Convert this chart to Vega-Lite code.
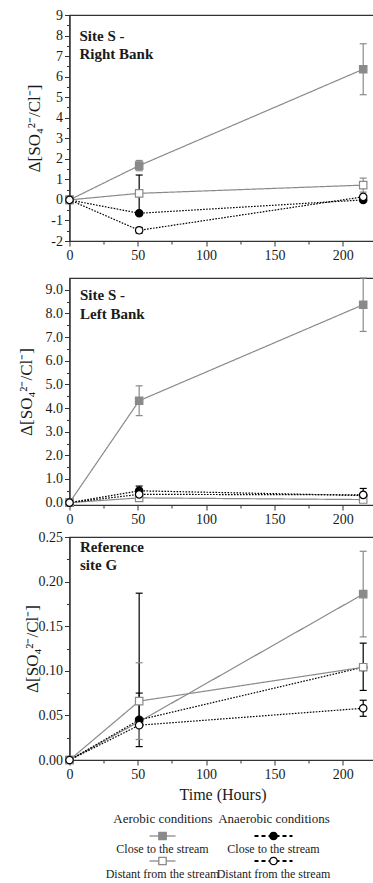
{
  "$schema": "https://vega.github.io/schema/vega-lite/v6.json",
  "padding": {"left": 15.5, "top": 7, "right": 0, "bottom": 0},
  "background": "white",
  "config": {
    "font": "Liberation Serif",
    "view": {"stroke": "#333333", "strokeWidth": 1.2},
    "axis": {
      "labelFont": "Liberation Serif", "labelFontSize": 14, "labelColor": "#1a1a1a",
      "titleFont": "Liberation Serif", "titleFontWeight": "normal", "titleColor": "#1a1a1a",
      "domainColor": "#333333", "domainWidth": 1.2, "tickColor": "#333333", "tickWidth": 1,
      "grid": false, "labelPadding": 2, "labelFlush": false, "labelOverlap": false
    }
  },
  "datasets": {
    "obs": [
      {"panel": "R", "series": "Aerobic, close", "t": 0, "v": 0, "lo": null, "hi": null},
      {"panel": "R", "series": "Aerobic, close", "t": 51, "v": 1.67, "lo": 1.42, "hi": 1.92},
      {"panel": "R", "series": "Aerobic, close", "t": 215, "v": 6.36, "lo": 5.12, "hi": 7.6},
      {"panel": "R", "series": "Anaerobic, close", "t": 0, "v": 0, "lo": null, "hi": null},
      {"panel": "R", "series": "Anaerobic, close", "t": 51, "v": -0.65, "lo": -0.65, "hi": 1.21},
      {"panel": "R", "series": "Anaerobic, close", "t": 215, "v": 0.0, "lo": null, "hi": null},
      {"panel": "R", "series": "Aerobic, distant", "t": 0, "v": 0, "lo": null, "hi": null},
      {"panel": "R", "series": "Aerobic, distant", "t": 51, "v": 0.32, "lo": null, "hi": null},
      {"panel": "R", "series": "Aerobic, distant", "t": 215, "v": 0.72, "lo": 0.38, "hi": 1.06},
      {"panel": "R", "series": "Anaerobic, distant", "t": 0, "v": 0, "lo": null, "hi": null},
      {"panel": "R", "series": "Anaerobic, distant", "t": 51, "v": -1.48, "lo": -1.62, "hi": -1.34},
      {"panel": "R", "series": "Anaerobic, distant", "t": 215, "v": 0.15, "lo": null, "hi": null},

      {"panel": "L", "series": "Aerobic, close", "t": 0, "v": 0, "lo": null, "hi": null},
      {"panel": "L", "series": "Aerobic, close", "t": 51, "v": 4.31, "lo": 3.68, "hi": 4.94},
      {"panel": "L", "series": "Aerobic, close", "t": 215, "v": 8.37, "lo": 7.24, "hi": 9.5},
      {"panel": "L", "series": "Anaerobic, close", "t": 0, "v": 0, "lo": null, "hi": null},
      {"panel": "L", "series": "Anaerobic, close", "t": 51, "v": 0.5, "lo": 0.5, "hi": 0.7},
      {"panel": "L", "series": "Anaerobic, close", "t": 215, "v": 0.3, "lo": 0.3, "hi": 0.6},
      {"panel": "L", "series": "Aerobic, distant", "t": 0, "v": 0, "lo": null, "hi": null},
      {"panel": "L", "series": "Aerobic, distant", "t": 51, "v": 0.2, "lo": null, "hi": null},
      {"panel": "L", "series": "Aerobic, distant", "t": 215, "v": 0.13, "lo": null, "hi": null},
      {"panel": "L", "series": "Anaerobic, distant", "t": 0, "v": 0, "lo": null, "hi": null},
      {"panel": "L", "series": "Anaerobic, distant", "t": 51, "v": 0.35, "lo": null, "hi": null},
      {"panel": "L", "series": "Anaerobic, distant", "t": 215, "v": 0.33, "lo": null, "hi": null},

      {"panel": "G", "series": "Aerobic, close", "t": 0, "v": 0, "lo": null, "hi": null},
      {"panel": "G", "series": "Aerobic, close", "t": 51, "v": 0.043, "lo": null, "hi": null},
      {"panel": "G", "series": "Aerobic, close", "t": 215, "v": 0.186, "lo": 0.138, "hi": 0.234},
      {"panel": "G", "series": "Anaerobic, close", "t": 0, "v": 0, "lo": null, "hi": null},
      {"panel": "G", "series": "Anaerobic, close", "t": 51, "v": 0.045, "lo": 0.015, "hi": 0.075},
      {"panel": "G", "series": "Anaerobic, close", "t": 215, "v": 0.104, "lo": 0.078, "hi": 0.131},
      {"panel": "G", "series": "Aerobic, distant", "t": 0, "v": 0, "lo": null, "hi": null},
      {"panel": "G", "series": "Aerobic, distant", "t": 51, "v": 0.066, "lo": 0.023, "hi": 0.109},
      {"panel": "G", "series": "Aerobic, distant", "t": 215, "v": 0.104, "lo": null, "hi": null},
      {"panel": "G", "series": "Anaerobic, distant", "t": 0, "v": 0, "lo": null, "hi": null},
      {"panel": "G", "series": "Anaerobic, distant", "t": 51, "v": 0.039, "lo": 0.039, "hi": 0.187},
      {"panel": "G", "series": "Anaerobic, distant", "t": 215, "v": 0.058, "lo": 0.049, "hi": 0.067}
    ],
    "legend": [
      {"condition": "Aerobic conditions", "location": "Close to the stream", "series": "Aerobic, close"},
      {"condition": "Aerobic conditions", "location": "Distant from the stream", "series": "Aerobic, distant"},
      {"condition": "Anaerobic conditions", "location": "Close to the stream", "series": "Anaerobic, close"},
      {"condition": "Anaerobic conditions", "location": "Distant from the stream", "series": "Anaerobic, distant"}
    ]
  },
  "vconcat": [
    {
      "vconcat": [
        {
          "width": 306, "height": 226,
          "title": {"text": ["Site S -", "Right Bank"], "anchor": "start", "frame": "group", "orient": "top", "baseline": "top", "offset": -54, "dx": 10, "fontSize": 15, "fontWeight": "bold", "lineHeight": 18.5, "color": "#1a1a1a", "font": "Liberation Serif"},
          "data": {"name": "obs"},
          "transform": [{"filter": "datum.panel === 'R'"}],
          "encoding": {
            "x": {"field": "t", "type": "quantitative", "title": null, "scale": {"domain": [0, 224], "nice": false, "zero": false},
              "axis": {"values": [0, 25, 50, 75, 100, 125, 150, 175, 200], "labelOverlap": false, "labelExpr": "datum.value % 50 === 0 ? datum.label : ''", "tickSize": {"condition": {"test": "datum.value % 50 === 0", "value": 5}, "value": 3}}},
            "y": {"field": "v", "type": "quantitative", "title": "Δ[SO₄²⁻/Cl⁻]", "scale": {"domain": [-2, 9], "nice": false, "zero": false},
              "axis": {"values": [-2, -1.5, -1, -0.5, 0, 0.5, 1, 1.5, 2, 2.5, 3, 3.5, 4, 4.5, 5, 5.5, 6, 6.5, 7, 7.5, 8, 8.5, 9], "labelOverlap": false, "labelExpr": "datum.value % 1 === 0 ? '' + datum.value : ''", "tickSize": {"condition": {"test": "datum.value % 1 === 0", "value": 5}, "value": 3}, "titleFontSize": 17, "titlePadding": 7}}
          },
          "layer": [
            {
              "mark": {"type": "line", "strokeWidth": 1.2},
              "encoding": {
                "stroke": {"field": "series", "type": "nominal", "legend": null, "scale": {"domain": ["Aerobic, close", "Aerobic, distant", "Anaerobic, close", "Anaerobic, distant"], "range": ["#8a8a8a", "#8a8a8a", "#000000", "#000000"]}},
                "strokeDash": {"field": "series", "type": "nominal", "legend": null, "scale": {"domain": ["Aerobic, close", "Aerobic, distant", "Anaerobic, close", "Anaerobic, distant"], "range": [[1, 0], [1, 0], [1.6, 1.4], [1.6, 1.4]]}}
              }
            },
            {
              "transform": [{"filter": "isValid(datum.hi)"}],
              "mark": {"type": "rule", "strokeWidth": 1.2},
              "encoding": {
                "y": {"field": "lo", "type": "quantitative", "title": "Δ[SO₄²⁻/Cl⁻]", "scale": {"domain": [-2, 9], "nice": false, "zero": false},
                  "axis": {"values": [-2, -1.5, -1, -0.5, 0, 0.5, 1, 1.5, 2, 2.5, 3, 3.5, 4, 4.5, 5, 5.5, 6, 6.5, 7, 7.5, 8, 8.5, 9], "labelOverlap": false, "labelExpr": "datum.value % 1 === 0 ? '' + datum.value : ''", "tickSize": {"condition": {"test": "datum.value % 1 === 0", "value": 5}, "value": 3}, "titleFontSize": 17, "titlePadding": 7}},
                "y2": {"field": "hi"},
                "color": {"field": "series", "type": "nominal", "legend": null, "scale": {"domain": ["Aerobic, close", "Aerobic, distant", "Anaerobic, close", "Anaerobic, distant"], "range": ["#8a8a8a", "#8a8a8a", "#000000", "#000000"]}}
              }
            },
            {
              "transform": [{"filter": "isValid(datum.hi)"}],
              "mark": {"type": "tick", "orient": "horizontal", "size": 7, "thickness": 1.2, "opacity": 1},
              "encoding": {
                "y": {"field": "hi", "type": "quantitative", "title": "Δ[SO₄²⁻/Cl⁻]", "scale": {"domain": [-2, 9], "nice": false, "zero": false},
                  "axis": {"values": [-2, -1.5, -1, -0.5, 0, 0.5, 1, 1.5, 2, 2.5, 3, 3.5, 4, 4.5, 5, 5.5, 6, 6.5, 7, 7.5, 8, 8.5, 9], "labelOverlap": false, "labelExpr": "datum.value % 1 === 0 ? '' + datum.value : ''", "tickSize": {"condition": {"test": "datum.value % 1 === 0", "value": 5}, "value": 3}, "titleFontSize": 17, "titlePadding": 7}},
                "color": {"field": "series", "type": "nominal", "legend": null}
              }
            },
            {
              "transform": [{"filter": "isValid(datum.lo)"}],
              "mark": {"type": "tick", "orient": "horizontal", "size": 7, "thickness": 1.2, "opacity": 1},
              "encoding": {
                "y": {"field": "lo", "type": "quantitative", "title": "Δ[SO₄²⁻/Cl⁻]", "scale": {"domain": [-2, 9], "nice": false, "zero": false},
                  "axis": {"values": [-2, -1.5, -1, -0.5, 0, 0.5, 1, 1.5, 2, 2.5, 3, 3.5, 4, 4.5, 5, 5.5, 6, 6.5, 7, 7.5, 8, 8.5, 9], "labelOverlap": false, "labelExpr": "datum.value % 1 === 0 ? '' + datum.value : ''", "tickSize": {"condition": {"test": "datum.value % 1 === 0", "value": 5}, "value": 3}, "titleFontSize": 17, "titlePadding": 7}},
                "color": {"field": "series", "type": "nominal", "legend": null}
              }
            },
            {
              "mark": {"type": "point", "filled": true, "opacity": 1, "strokeWidth": 1.2, "size": 55},
              "encoding": {
                "shape": {"field": "series", "type": "nominal", "legend": null, "scale": {"domain": ["Aerobic, close", "Aerobic, distant", "Anaerobic, close", "Anaerobic, distant"], "range": ["square", "square", "circle", "circle"]}},
                "fill": {"field": "series", "type": "nominal", "legend": null, "scale": {"domain": ["Aerobic, close", "Aerobic, distant", "Anaerobic, close", "Anaerobic, distant"], "range": ["#8a8a8a", "#ffffff", "#000000", "#ffffff"]}},
                "stroke": {"field": "series", "type": "nominal", "legend": null}
              }
            }
          ]
        },
        {
          "vconcat": [
            {
              "width": 306, "height": 227,
              "title": {"text": ["Site S -", "Left Bank"], "anchor": "start", "frame": "group", "orient": "top", "baseline": "top", "offset": -44.3, "dx": 10.5, "fontSize": 15, "fontWeight": "bold", "lineHeight": 19, "color": "#1a1a1a", "font": "Liberation Serif"},
              "data": {"name": "obs"},
              "transform": [{"filter": "datum.panel === 'L'"}],
              "encoding": {
                "x": {"field": "t", "type": "quantitative", "title": null, "scale": {"domain": [0, 224], "nice": false, "zero": false},
                  "axis": {"values": [0, 25, 50, 75, 100, 125, 150, 175, 200], "labelOverlap": false, "labelExpr": "datum.value % 50 === 0 ? datum.label : ''", "tickSize": {"condition": {"test": "datum.value % 50 === 0", "value": 5}, "value": 3}}},
                "y": {"field": "v", "type": "quantitative", "title": "Δ[SO₄²⁻/Cl⁻]", "scale": {"domain": [-0.1, 9.5], "nice": false, "zero": false},
                  "axis": {"values": [0, 0.5, 1, 1.5, 2, 2.5, 3, 3.5, 4, 4.5, 5, 5.5, 6, 6.5, 7, 7.5, 8, 8.5, 9], "labelOverlap": false, "labelExpr": "datum.value % 1 === 0 ? format(datum.value, '.1f') : ''", "tickSize": {"condition": {"test": "datum.value % 1 === 0", "value": 5}, "value": 3}, "titleFontSize": 17, "titlePadding": 10}}
              },
              "layer": [
                {
                  "mark": {"type": "line", "strokeWidth": 1.2},
                  "encoding": {
                    "stroke": {"field": "series", "type": "nominal", "legend": null, "scale": {"domain": ["Aerobic, close", "Aerobic, distant", "Anaerobic, close", "Anaerobic, distant"], "range": ["#8a8a8a", "#8a8a8a", "#000000", "#000000"]}},
                    "strokeDash": {"field": "series", "type": "nominal", "legend": null, "scale": {"domain": ["Aerobic, close", "Aerobic, distant", "Anaerobic, close", "Anaerobic, distant"], "range": [[1, 0], [1, 0], [1.6, 1.4], [1.6, 1.4]]}}
                  }
                },
                {
                  "transform": [{"filter": "isValid(datum.hi)"}],
                  "mark": {"type": "rule", "strokeWidth": 1.2},
                  "encoding": {
                    "y": {"field": "lo", "type": "quantitative", "title": "Δ[SO₄²⁻/Cl⁻]", "scale": {"domain": [-0.1, 9.5], "nice": false, "zero": false},
                      "axis": {"values": [0, 0.5, 1, 1.5, 2, 2.5, 3, 3.5, 4, 4.5, 5, 5.5, 6, 6.5, 7, 7.5, 8, 8.5, 9], "labelOverlap": false, "labelExpr": "datum.value % 1 === 0 ? format(datum.value, '.1f') : ''", "tickSize": {"condition": {"test": "datum.value % 1 === 0", "value": 5}, "value": 3}, "titleFontSize": 17, "titlePadding": 10}},
                    "y2": {"field": "hi"},
                    "color": {"field": "series", "type": "nominal", "legend": null, "scale": {"domain": ["Aerobic, close", "Aerobic, distant", "Anaerobic, close", "Anaerobic, distant"], "range": ["#8a8a8a", "#8a8a8a", "#000000", "#000000"]}}
                  }
                },
                {
                  "transform": [{"filter": "isValid(datum.hi)"}],
                  "mark": {"type": "tick", "orient": "horizontal", "size": 7, "thickness": 1.2, "opacity": 1},
                  "encoding": {
                    "y": {"field": "hi", "type": "quantitative", "title": "Δ[SO₄²⁻/Cl⁻]", "scale": {"domain": [-0.1, 9.5], "nice": false, "zero": false},
                      "axis": {"values": [0, 0.5, 1, 1.5, 2, 2.5, 3, 3.5, 4, 4.5, 5, 5.5, 6, 6.5, 7, 7.5, 8, 8.5, 9], "labelOverlap": false, "labelExpr": "datum.value % 1 === 0 ? format(datum.value, '.1f') : ''", "tickSize": {"condition": {"test": "datum.value % 1 === 0", "value": 5}, "value": 3}, "titleFontSize": 17, "titlePadding": 10}},
                    "color": {"field": "series", "type": "nominal", "legend": null}
                  }
                },
                {
                  "transform": [{"filter": "isValid(datum.lo)"}],
                  "mark": {"type": "tick", "orient": "horizontal", "size": 7, "thickness": 1.2, "opacity": 1},
                  "encoding": {
                    "y": {"field": "lo", "type": "quantitative", "title": "Δ[SO₄²⁻/Cl⁻]", "scale": {"domain": [-0.1, 9.5], "nice": false, "zero": false},
                      "axis": {"values": [0, 0.5, 1, 1.5, 2, 2.5, 3, 3.5, 4, 4.5, 5, 5.5, 6, 6.5, 7, 7.5, 8, 8.5, 9], "labelOverlap": false, "labelExpr": "datum.value % 1 === 0 ? format(datum.value, '.1f') : ''", "tickSize": {"condition": {"test": "datum.value % 1 === 0", "value": 5}, "value": 3}, "titleFontSize": 17, "titlePadding": 10}},
                    "color": {"field": "series", "type": "nominal", "legend": null}
                  }
                },
                {
                  "mark": {"type": "point", "filled": true, "opacity": 1, "strokeWidth": 1.2, "size": 55},
                  "encoding": {
                    "shape": {"field": "series", "type": "nominal", "legend": null, "scale": {"domain": ["Aerobic, close", "Aerobic, distant", "Anaerobic, close", "Anaerobic, distant"], "range": ["square", "square", "circle", "circle"]}},
                    "fill": {"field": "series", "type": "nominal", "legend": null, "scale": {"domain": ["Aerobic, close", "Aerobic, distant", "Anaerobic, close", "Anaerobic, distant"], "range": ["#8a8a8a", "#ffffff", "#000000", "#ffffff"]}},
                    "stroke": {"field": "series", "type": "nominal", "legend": null}
                  }
                }
              ]
            },
            {
              "width": 306, "height": 223,
              "title": {"text": ["Reference", "site G"], "anchor": "start", "frame": "group", "orient": "top", "baseline": "top", "offset": -43.3, "dx": 10.5, "fontSize": 15, "fontWeight": "bold", "lineHeight": 18.5, "color": "#1a1a1a", "font": "Liberation Serif"},
              "data": {"name": "obs"},
              "transform": [{"filter": "datum.panel === 'G'"}],
              "encoding": {
                "x": {"field": "t", "type": "quantitative", "title": "Time (Hours)", "scale": {"domain": [0, 224], "nice": false, "zero": false},
                  "axis": {"values": [0, 25, 50, 75, 100, 125, 150, 175, 200], "labelOverlap": false, "labelExpr": "datum.value % 50 === 0 ? datum.label : ''", "tickSize": {"condition": {"test": "datum.value % 50 === 0", "value": 5}, "value": 3}, "titleFontSize": 16, "titlePadding": 5}},
                "y": {"field": "v", "type": "quantitative", "title": "Δ[SO₄²⁻/Cl⁻]", "scale": {"domain": [0, 0.25], "nice": false, "zero": false},
                  "axis": {"values": [0, 0.025, 0.05, 0.075, 0.1, 0.125, 0.15, 0.175, 0.2, 0.225, 0.25], "labelOverlap": false, "labelExpr": "round(datum.value * 1000) % 50 === 0 ? format(datum.value, '.2f') : ''", "tickSize": {"condition": {"test": "round(datum.value * 1000) % 50 === 0", "value": 5}, "value": 3}, "titleFontSize": 17, "titlePadding": -3}}
              },
              "layer": [
                {
                  "mark": {"type": "line", "strokeWidth": 1.2},
                  "encoding": {
                    "stroke": {"field": "series", "type": "nominal", "legend": null, "scale": {"domain": ["Aerobic, close", "Aerobic, distant", "Anaerobic, close", "Anaerobic, distant"], "range": ["#8a8a8a", "#8a8a8a", "#000000", "#000000"]}},
                    "strokeDash": {"field": "series", "type": "nominal", "legend": null, "scale": {"domain": ["Aerobic, close", "Aerobic, distant", "Anaerobic, close", "Anaerobic, distant"], "range": [[1, 0], [1, 0], [1.6, 1.4], [1.6, 1.4]]}}
                  }
                },
                {
                  "transform": [{"filter": "isValid(datum.hi)"}],
                  "mark": {"type": "rule", "strokeWidth": 1.2},
                  "encoding": {
                    "y": {"field": "lo", "type": "quantitative", "title": "Δ[SO₄²⁻/Cl⁻]", "scale": {"domain": [0, 0.25], "nice": false, "zero": false},
                      "axis": {"values": [0, 0.025, 0.05, 0.075, 0.1, 0.125, 0.15, 0.175, 0.2, 0.225, 0.25], "labelOverlap": false, "labelExpr": "round(datum.value * 1000) % 50 === 0 ? format(datum.value, '.2f') : ''", "tickSize": {"condition": {"test": "round(datum.value * 1000) % 50 === 0", "value": 5}, "value": 3}, "titleFontSize": 17, "titlePadding": -3}},
                    "y2": {"field": "hi"},
                    "color": {"field": "series", "type": "nominal", "legend": null, "scale": {"domain": ["Aerobic, close", "Aerobic, distant", "Anaerobic, close", "Anaerobic, distant"], "range": ["#8a8a8a", "#8a8a8a", "#000000", "#000000"]}}
                  }
                },
                {
                  "transform": [{"filter": "isValid(datum.hi)"}],
                  "mark": {"type": "tick", "orient": "horizontal", "size": 7, "thickness": 1.2, "opacity": 1},
                  "encoding": {
                    "y": {"field": "hi", "type": "quantitative", "title": "Δ[SO₄²⁻/Cl⁻]", "scale": {"domain": [0, 0.25], "nice": false, "zero": false},
                      "axis": {"values": [0, 0.025, 0.05, 0.075, 0.1, 0.125, 0.15, 0.175, 0.2, 0.225, 0.25], "labelOverlap": false, "labelExpr": "round(datum.value * 1000) % 50 === 0 ? format(datum.value, '.2f') : ''", "tickSize": {"condition": {"test": "round(datum.value * 1000) % 50 === 0", "value": 5}, "value": 3}, "titleFontSize": 17, "titlePadding": -3}},
                    "color": {"field": "series", "type": "nominal", "legend": null}
                  }
                },
                {
                  "transform": [{"filter": "isValid(datum.lo)"}],
                  "mark": {"type": "tick", "orient": "horizontal", "size": 7, "thickness": 1.2, "opacity": 1},
                  "encoding": {
                    "y": {"field": "lo", "type": "quantitative", "title": "Δ[SO₄²⁻/Cl⁻]", "scale": {"domain": [0, 0.25], "nice": false, "zero": false},
                      "axis": {"values": [0, 0.025, 0.05, 0.075, 0.1, 0.125, 0.15, 0.175, 0.2, 0.225, 0.25], "labelOverlap": false, "labelExpr": "round(datum.value * 1000) % 50 === 0 ? format(datum.value, '.2f') : ''", "tickSize": {"condition": {"test": "round(datum.value * 1000) % 50 === 0", "value": 5}, "value": 3}, "titleFontSize": 17, "titlePadding": -3}},
                    "color": {"field": "series", "type": "nominal", "legend": null}
                  }
                },
                {
                  "mark": {"type": "point", "filled": true, "opacity": 1, "strokeWidth": 1.2, "size": 55},
                  "encoding": {
                    "shape": {"field": "series", "type": "nominal", "legend": null, "scale": {"domain": ["Aerobic, close", "Aerobic, distant", "Anaerobic, close", "Anaerobic, distant"], "range": ["square", "square", "circle", "circle"]}},
                    "fill": {"field": "series", "type": "nominal", "legend": null, "scale": {"domain": ["Aerobic, close", "Aerobic, distant", "Anaerobic, close", "Anaerobic, distant"], "range": ["#8a8a8a", "#ffffff", "#000000", "#ffffff"]}},
                    "stroke": {"field": "series", "type": "nominal", "legend": null}
                  }
                }
              ]
            }
          ],
          "spacing": 32,
          "bounds": "flush"
        }
      ],
      "spacing": 13
    },
    {
      "width": 297, "height": 25,
      "view": {"stroke": null},
      "data": {"name": "legend"},
      "encoding": {
        "x": {"field": "condition", "type": "nominal", "title": null, "scale": {"type": "point", "domain": ["Aerobic conditions", "Anaerobic conditions"], "padding": 0.838},
          "axis": {"orient": "top", "domain": false, "ticks": false, "labelAngle": 0, "labelFontSize": 13, "labelPadding": 10.5, "labelLimit": 300, "labelOverlap": false}},
        "y": {"field": "location", "type": "nominal", "scale": {"type": "point", "domain": ["Close to the stream", "Distant from the stream"], "padding": 0}, "axis": null}
      },
      "layer": [
        {
          "transform": [{"filter": "datum.condition === 'Aerobic conditions'"}],
          "mark": {"type": "rule", "xOffset": -13, "x2Offset": 13, "strokeWidth": 1.3, "color": "#8a8a8a"},
          "encoding": {"x2": {"field": "condition"}}
        },
        {
          "transform": [{"filter": "datum.condition === 'Anaerobic conditions'"}],
          "mark": {"type": "rule", "xOffset": -19, "x2Offset": 19, "strokeWidth": 1.8, "strokeDash": [4, 3], "color": "#000000"},
          "encoding": {"x2": {"field": "condition"}}
        },
        {
          "mark": {"type": "point", "filled": true, "opacity": 1, "strokeWidth": 1.3, "size": 55},
          "encoding": {
            "shape": {"field": "series", "type": "nominal", "legend": null, "scale": {"domain": ["Aerobic, close", "Aerobic, distant", "Anaerobic, close", "Anaerobic, distant"], "range": ["square", "square", "circle", "circle"]}},
            "fill": {"field": "series", "type": "nominal", "legend": null, "scale": {"domain": ["Aerobic, close", "Aerobic, distant", "Anaerobic, close", "Anaerobic, distant"], "range": ["#8a8a8a", "#ffffff", "#000000", "#ffffff"]}},
            "stroke": {"field": "series", "type": "nominal", "legend": null, "scale": {"domain": ["Aerobic, close", "Aerobic, distant", "Anaerobic, close", "Anaerobic, distant"], "range": ["#8a8a8a", "#8a8a8a", "#000000", "#000000"]}}
          }
        },
        {
          "mark": {"type": "text", "dy": 12.5, "fontSize": 12, "font": "Liberation Serif", "color": "#1a1a1a"},
          "encoding": {"text": {"field": "location", "type": "nominal"}}
        }
      ]
    }
  ],
  "spacing": 9
}
